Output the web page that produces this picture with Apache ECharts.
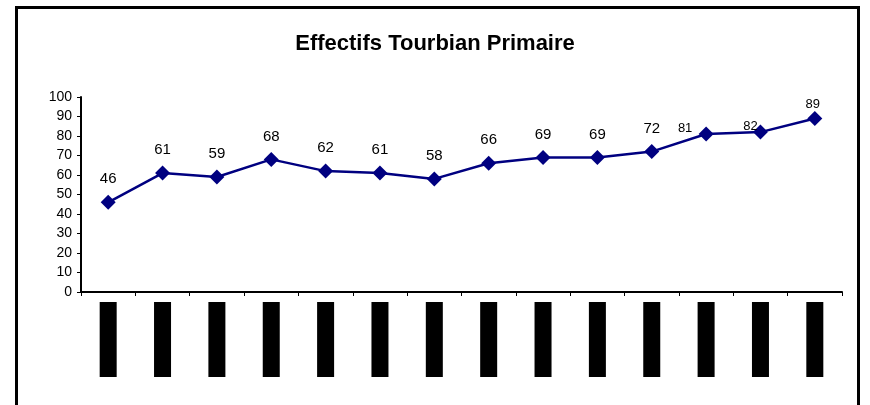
<!DOCTYPE html>
<html>
<head>
<meta charset="utf-8">
<script src="https://cdn.jsdelivr.net/npm/echarts@6/dist/echarts.min.js"></script>
<style>
    html, body { margin: 0; padding: 0; background: #fff; }
    #chart01 { width: 870px; height: 405px; }
</style>
</head>
<body>
<div id="chart01"></div>
<script>
// années scolaires (axe x)
const annees = ['1991-1992', '1992-1993', '1993-1994', '1994-1995', '1995-1996', '1996-1997', '1997-1998',
    '1998-1999', '1999-2000', '2000-2001', '2001-2002', '2002-2003', '2003-2004', '2004-2005'];
// effectifs
const effectifs = [46, 61, 59, 68, 62, 61, 58, 66, 69, 69, 72, 81, 82, 89];
// graduations de l'axe y
const yTicks = [0, 10, 20, 30, 40, 50, 60, 70, 80, 90, 100];

chart01();

function chart01() {
    var chartDom = document.getElementById('chart01');
    var myChart = echarts.init(chartDom);
    var option;
    // les 3 dernières étiquettes sont placées autrement
    var labelFix = {
        11: { fontSize: 13, offset: [-21, 16] },
        12: { fontSize: 13, offset: [-10, 16] },
        13: { fontSize: 13, offset: [-2, 8] }
    };
    var data = effectifs.map(function (v, i) {
        return labelFix[i] ? { value: v, label: labelFix[i] } : v;
    });
    option = {
        backgroundColor: '#fff',
        animation: false,
        title: {
            text: 'Effectifs Tourbian Primaire',
            left: 'center',
            top: 28,
            textStyle: {
                fontFamily: 'Liberation Sans',
                fontWeight: 'bold',
                fontSize: 22,
                color: '#000'
            }
        },
        graphic: [
            {
                type: 'rect',
                shape: { x: 16.5, y: 7.5, width: 842, height: 420 },
                style: { fill: 'none', stroke: '#000', lineWidth: 3 },
                silent: true
            }
        ],
        grid: {
            left: 81,
            right: 28,
            top: 97,
            bottom: 113
        },
        xAxis: {
            type: 'category',
            data: annees,
            boundaryGap: true,
            axisLine: { lineStyle: { color: '#000', width: 2 } },
            axisTick: { show: true, length: 4, lineStyle: { color: '#000' } },
            axisLabel: {
                rotate: 90,
                interval: 0,
                margin: 10,
                fontFamily: 'Liberation Sans',
                fontSize: 14,
                lineHeight: 17,
                color: '#000',
                backgroundColor: '#000',
                padding: [0, 4]
            }
        },
        yAxis: {
            type: 'value',
            min: yTicks[0],
            max: yTicks[yTicks.length - 1],
            interval: 10,
            splitLine: { show: false },
            axisLine: { show: true, lineStyle: { color: '#000', width: 2 } },
            axisTick: { show: true, length: 4, lineStyle: { color: '#000' } },
            axisLabel: {
                margin: 9,
                fontFamily: 'Liberation Sans',
                fontSize: 14,
                color: '#000'
            }
        },
        series: [
            {
                type: 'line',
                data: data,
                symbol: 'diamond',
                symbolSize: 15,
                itemStyle: { color: '#000080' },
                lineStyle: { color: '#000080', width: 2.5 },
                label: {
                    show: true,
                    position: 'top',
                    distance: 8,
                    fontFamily: 'Liberation Sans',
                    fontSize: 15,
                    color: '#000'
                }
            }
        ]
    };

    option && myChart.setOption(option);
}
</script>
</body>
</html>
